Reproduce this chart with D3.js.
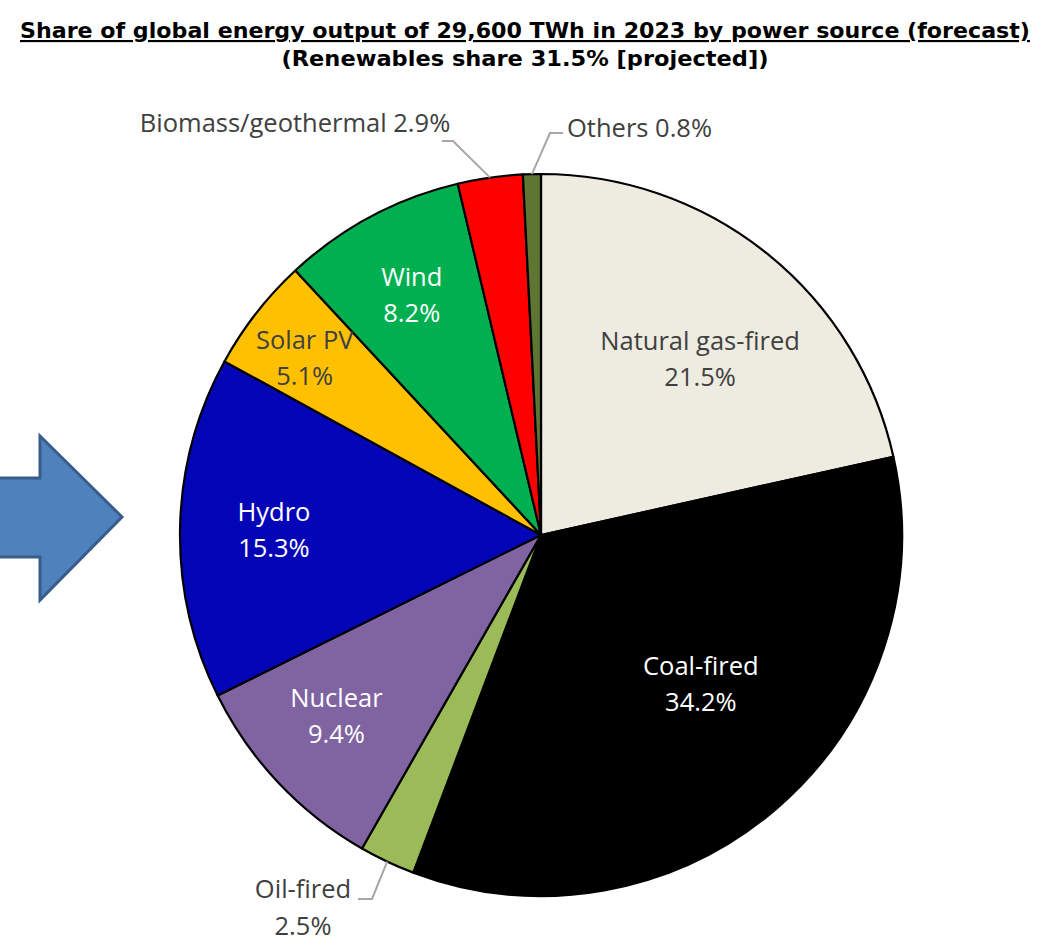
<!DOCTYPE html>
<html>
<head>
<meta charset="utf-8">
<script src="https://cdn.jsdelivr.net/npm/d3@7"></script>
<style>
  html, body { margin: 0; padding: 0; background: #fff; }
  svg { display: block; }
</style>
</head>
<body>
<svg id="chart" width="1046" height="946"></svg>
<script>
// Power sources, clockwise from 12 o'clock
const sources = ["Natural gas-fired", "Coal-fired", "Oil-fired", "Nuclear", "Hydro",
                 "Solar PV", "Wind", "Biomass/geothermal", "Others"];
const shares = [21.5, 34.2, 2.5, 9.4, 15.3, 5.1, 8.2, 2.9, 0.8];
const fills = ["#eeece1", "#000000", "#9bbb59", "#8064a2", "#0505b8",
               "#ffc000", "#00b050", "#ff0000", "#5f7532"];
const labelColors = ["#404040", "#ffffff", "#404040", "#ffffff", "#ffffff",
                     "#404040", "#ffffff", "#404040", "#404040"];
// Radial position of in-slice labels as a fraction of the radius, plus a small nudge
const labelRadius = [0.66, 0.60, 0, 0.76, 0.74, 0.83, 0.76, 0, 0];
const labelNudge = [[10, 10], [18, -15], [0, 0], [-5, -7], [0, 0], [0, 7], [0, 2], [0, 0], [0, 0]];

const svg = d3.select("#chart");
const cx = 541, cy = 535, R = 361;

// Title
const title = svg.append("g").attr("font-family", "DejaVu Sans, Verdana, sans-serif")
  .attr("font-weight", "bold").attr("fill", "#000");
title.append("text").attr("x", 525).attr("y", 38).attr("text-anchor", "middle")
  .attr("font-size", 21.5).attr("text-decoration", "underline")
  .attr("textLength", 1010).attr("lengthAdjust", "spacingAndGlyphs")
  .text("Share of global energy output of 29,600 TWh in 2023 by power source (forecast)");
title.append("text").attr("x", 525).attr("y", 66).attr("text-anchor", "middle")
  .attr("font-size", 21.5)
  .attr("textLength", 487).attr("lengthAdjust", "spacingAndGlyphs")
  .text("(Renewables share 31.5% [projected])");

// Block arrow on the left
const arrowPts = [[-5, 478], [40, 478], [40, 436], [122, 517], [40, 600], [40, 557], [-5, 557]];
svg.append("path")
  .attr("d", d3.line()(arrowPts) + "Z")
  .attr("fill", "#4f81bd").attr("stroke", "#385d8a").attr("stroke-width", 3)
  .attr("stroke-linejoin", "miter");

// Pie
const pie = d3.pie().sort(null).value(d => d)
  .startAngle(0).endAngle(2 * Math.PI);
const arcs = pie(shares);
const arc = d3.arc().innerRadius(0).outerRadius(R);

const g = svg.append("g").attr("transform", `translate(${cx},${cy})`);
g.selectAll("path.slice").data(arcs).join("path")
  .attr("class", "slice")
  .attr("d", arc)
  .attr("fill", (d, i) => fills[i])
  .attr("stroke", "#000").attr("stroke-width", 2.2).attr("stroke-linejoin", "round");

const fontLabel = "'Open Sans', Lato, sans-serif";
const fs = 25.5;

// Labels inside slices
arcs.forEach((d, i) => {
  if (!labelRadius[i]) return;
  const r = labelRadius[i] * R;
  const c = d3.arc().innerRadius(r).outerRadius(r).centroid(d);
  const x = c[0] + labelNudge[i][0], y = c[1] + labelNudge[i][1];
  const t = g.append("text").attr("text-anchor", "middle")
    .attr("font-family", fontLabel).attr("font-size", fs)
    .attr("fill", labelColors[i]);
  t.append("tspan").attr("x", x).attr("y", y - 9).text(sources[i]);
  t.append("tspan").attr("x", x).attr("y", y + 27).text(shares[i].toFixed(1) + "%");
});

// Outside labels with leader lines
const leader = "#a6a6a6";
function edgePoint(i, frac) {
  const a = arcs[i].startAngle + (arcs[i].endAngle - arcs[i].startAngle) * frac;
  return [cx + R * Math.sin(a), cy - R * Math.cos(a)];
}
// Biomass/geothermal
{
  const p = edgePoint(7, 0.5);
  svg.append("path").attr("d", d3.line()([[442, 141], [453, 141], [p[0], p[1]]]))
    .attr("fill", "none").attr("stroke", leader).attr("stroke-width", 2);
  svg.append("text").attr("x", 295).attr("y", 132).attr("text-anchor", "middle")
    .attr("font-family", fontLabel).attr("font-size", fs).attr("fill", "#404040")
    .text(sources[7] + " " + shares[7].toFixed(1) + "%");
}
// Others
{
  const p = edgePoint(8, 0.5);
  svg.append("path").attr("d", d3.line()([[563, 133], [550, 133], [p[0], p[1]]]))
    .attr("fill", "none").attr("stroke", leader).attr("stroke-width", 2);
  svg.append("text").attr("x", 567).attr("y", 137).attr("text-anchor", "start")
    .attr("font-family", fontLabel).attr("font-size", fs).attr("fill", "#404040")
    .text(sources[8] + " " + shares[8].toFixed(1) + "%");
}
// Oil-fired
{
  const p = edgePoint(2, 0.5);
  svg.append("path").attr("d", d3.line()([[p[0], p[1]], [372, 899], [358, 899]]))
    .attr("fill", "none").attr("stroke", leader).attr("stroke-width", 2);
  const t = svg.append("text").attr("text-anchor", "middle")
    .attr("font-family", fontLabel).attr("font-size", fs).attr("fill", "#404040");
  t.append("tspan").attr("x", 303).attr("y", 898).text(sources[2]);
  t.append("tspan").attr("x", 303).attr("y", 935).text(shares[2].toFixed(1) + "%");
}
</script>
</body>
</html>
